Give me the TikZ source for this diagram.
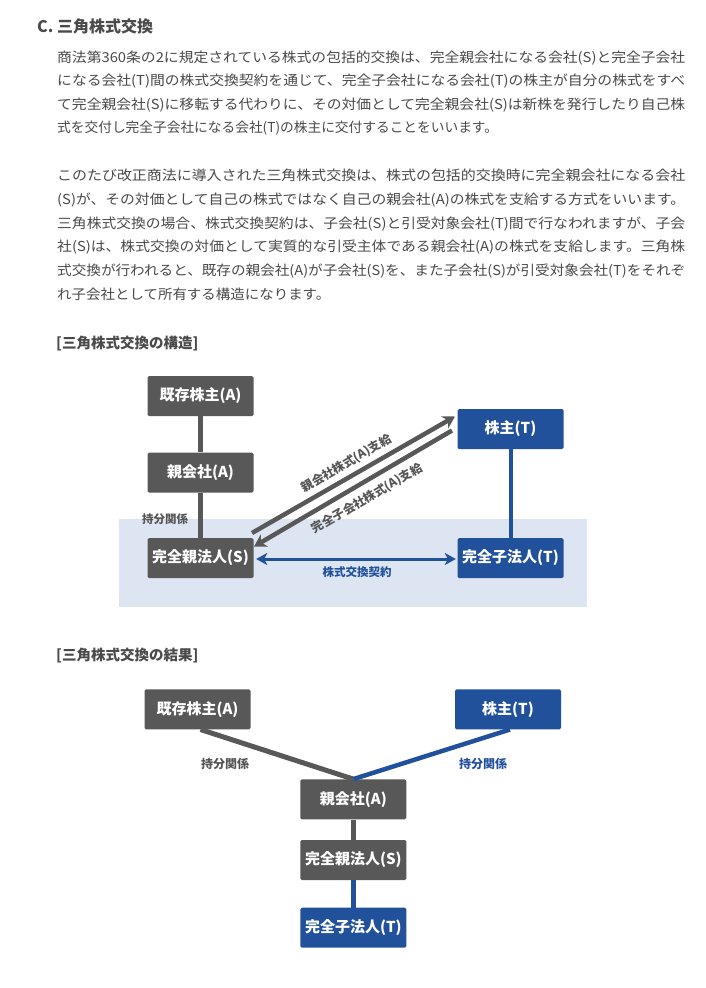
\documentclass[tikz,border=0pt]{standalone}
\usepackage{fontspec}
\usepackage{graphicx}
\setmainfont{Noto Sans CJK JP}
\usetikzlibrary{arrows.meta}
\definecolor{txt}{HTML}{4A4A4A}
\definecolor{boxgray}{HTML}{585858}
\definecolor{boxblue}{HTML}{22519B}
\definecolor{bgblue}{HTML}{DCE5F1}
\definecolor{lblgray}{HTML}{555555}
\newcommand{\fullline}[1]{\resizebox{628pt}{\height}{#1}}
\tikzset{
  bodyline/.style={anchor=base west, inner sep=0pt, text=txt, font=\fontsize{13.7}{16}\selectfont},
  heading/.style={anchor=west, inner sep=0pt, text=txt, font=\fontsize{14.5}{17}\selectfont\bfseries},
  gbox/.style={fill=boxgray, rounded corners=1.5pt, minimum width=106pt, minimum height=40pt, inner sep=0pt, text=white, font=\fontsize{15}{17}\selectfont\bfseries},
  bbox/.style={gbox, fill=boxblue},
  glink/.style={draw=boxgray, line width=5pt},
  blink/.style={draw=boxblue, line width=4.5pt},
  glabel/.style={inner sep=0pt, text=lblgray, font=\fontsize{11.5}{13}\selectfont\bfseries},
  blabel/.style={glabel, text=boxblue},
  garrow/.style={draw=boxgray, line width=4.5pt, -{Stealth[length=12pt,width=14pt,inset=4pt]}},
}
\begin{document}
\begin{tikzpicture}[x=1pt,y=-1pt]
\useasboundingbox (0,0) rectangle (706,988);
\fill[white] (0,0) rectangle (706,988);
% title
\node[anchor=west, inner sep=0pt, text=txt, font=\fontsize{16}{19}\selectfont\bfseries] (title) at (37,26) {C. 三角株式交換};
% paragraph 1
\node[bodyline] (p1l1) at (57,62) {\fullline{商法第360条の2に規定されている株式の包括的交換は、完全親会社になる会社(S)と完全子会社}};
\node[bodyline] (p1l2) at (57,85.5) {\fullline{になる会社(T)間の株式交換契約を通じて、完全子会社になる会社(T)の株主が自分の株式をすべ}};
\node[bodyline] (p1l3) at (57,109) {\fullline{て完全親会社(S)に移転する代わりに、その対価として完全親会社(S)は新株を発行したり自己株}};
\node[bodyline] (p1l4) at (57,132.5) {式を交付し完全子会社になる会社(T)の株主に交付することをいいます。};
% paragraph 2
\node[bodyline] (p2l1) at (57,180.5) {\fullline{このたび改正商法に導入された三角株式交換は、株式の包括的交換時に完全親会社になる会社}};
\node[bodyline] (p2l2) at (57,204.3) {\fullline{(S)が、その対価として自己の株式ではなく自己の親会社(A)の株式を支給する方式をいいます。}};
\node[bodyline] (p2l3) at (57,228.1) {\fullline{三角株式交換の場合、株式交換契約は、子会社(S)と引受対象会社(T)間で行なわれますが、子会}};
\node[bodyline] (p2l4) at (57,251.9) {\fullline{社(S)は、株式交換の対価として実質的な引受主体である親会社(A)の株式を支給します。三角株}};
\node[bodyline] (p2l5) at (57,275.7) {\fullline{式交換が行われると、既存の親会社(A)が子会社(S)を、また子会社(S)が引受対象会社(T)をそれぞ}};
\node[bodyline] (p2l6) at (57,299.5) {\resizebox{273pt}{\height}{れ子会社として所有する構造になります。}};
% heading 1
\node[heading] (h1) at (56,344) {[三角株式交換の構造]};
% diagram 1
\fill[bgblue] (119,519) rectangle (587,607);
\node[gbox] (e1) at (200.5,396) {既存株主(A)};
\node[gbox] (p1) at (200.5,472.5) {親会社(A)};
\node[gbox] (s1) at (200.5,558) {完全親法人(S)};
\node[bbox] (t1) at (510.5,429) {株主(T)};
\node[bbox] (c1) at (510.5,558) {完全子法人(T)};
\draw[glink] (e1.south) -- (p1.north);
\draw[glink] (p1.south) -- (s1.north);
\draw[blink, line width=4pt] (t1.south) -- (c1.north);
\node[glabel] (k1) at (165,519) {持分関係};
\coordinate (a1s) at (252,533);
\coordinate (a1e) at (455,416.5);
\coordinate (a2s) at (452,430.5);
\coordinate (a2e) at (254,546.5);
\draw[garrow] (a1s) -- (a1e);
\draw[garrow] (a2s) -- (a2e);
\node[glabel, rotate=30, font=\fontsize{12}{14}\selectfont\bfseries] (l1) at (346.7,463.3) {親会社株式(A)支給};
\node[glabel, rotate=30, font=\fontsize{12}{14}\selectfont\bfseries] (l2) at (367.3,498.3) {完全子会社株式(A)支給};
\draw[draw=boxblue, line width=3pt, {Stealth[length=11pt,width=12pt,inset=3pt]}-{Stealth[length=11pt,width=12pt,inset=3pt]}, shorten <=2.5pt, shorten >=1.5pt] (s1.east |- 0,559) -- (c1.west |- 0,559);
\node[blabel] (x1) at (357,572.5) {株式交換契約};
% heading 2
\node[heading] (h2) at (56,656) {[三角株式交換の結果]};
% diagram 2
\node[gbox] (e2) at (197.5,709.3) {既存株主(A)};
\node[bbox] (t2) at (508,709.3) {株主(T)};
\node[gbox] (p2) at (353.3,799.3) {親会社(A)};
\node[gbox] (s2) at (353.3,860) {完全親法人(S)};
\node[bbox] (c2) at (353.3,927.7) {完全子法人(T)};
\draw[glink] ([xshift=3pt]e2.south) -- (p2.north);
\draw[blink] ([xshift=2pt]t2.south) -- (p2.north);
\draw[glink] (p2.south) -- (s2.north);
\draw[blink, line width=5pt] (s2.south) -- (c2.north);
\node[glabel, font=\fontsize{12}{14}\selectfont\bfseries] (k2) at (225,764) {持分関係};
\node[blabel, font=\fontsize{12}{14}\selectfont\bfseries] (k3) at (483,764) {持分関係};
\end{tikzpicture}
\end{document}
